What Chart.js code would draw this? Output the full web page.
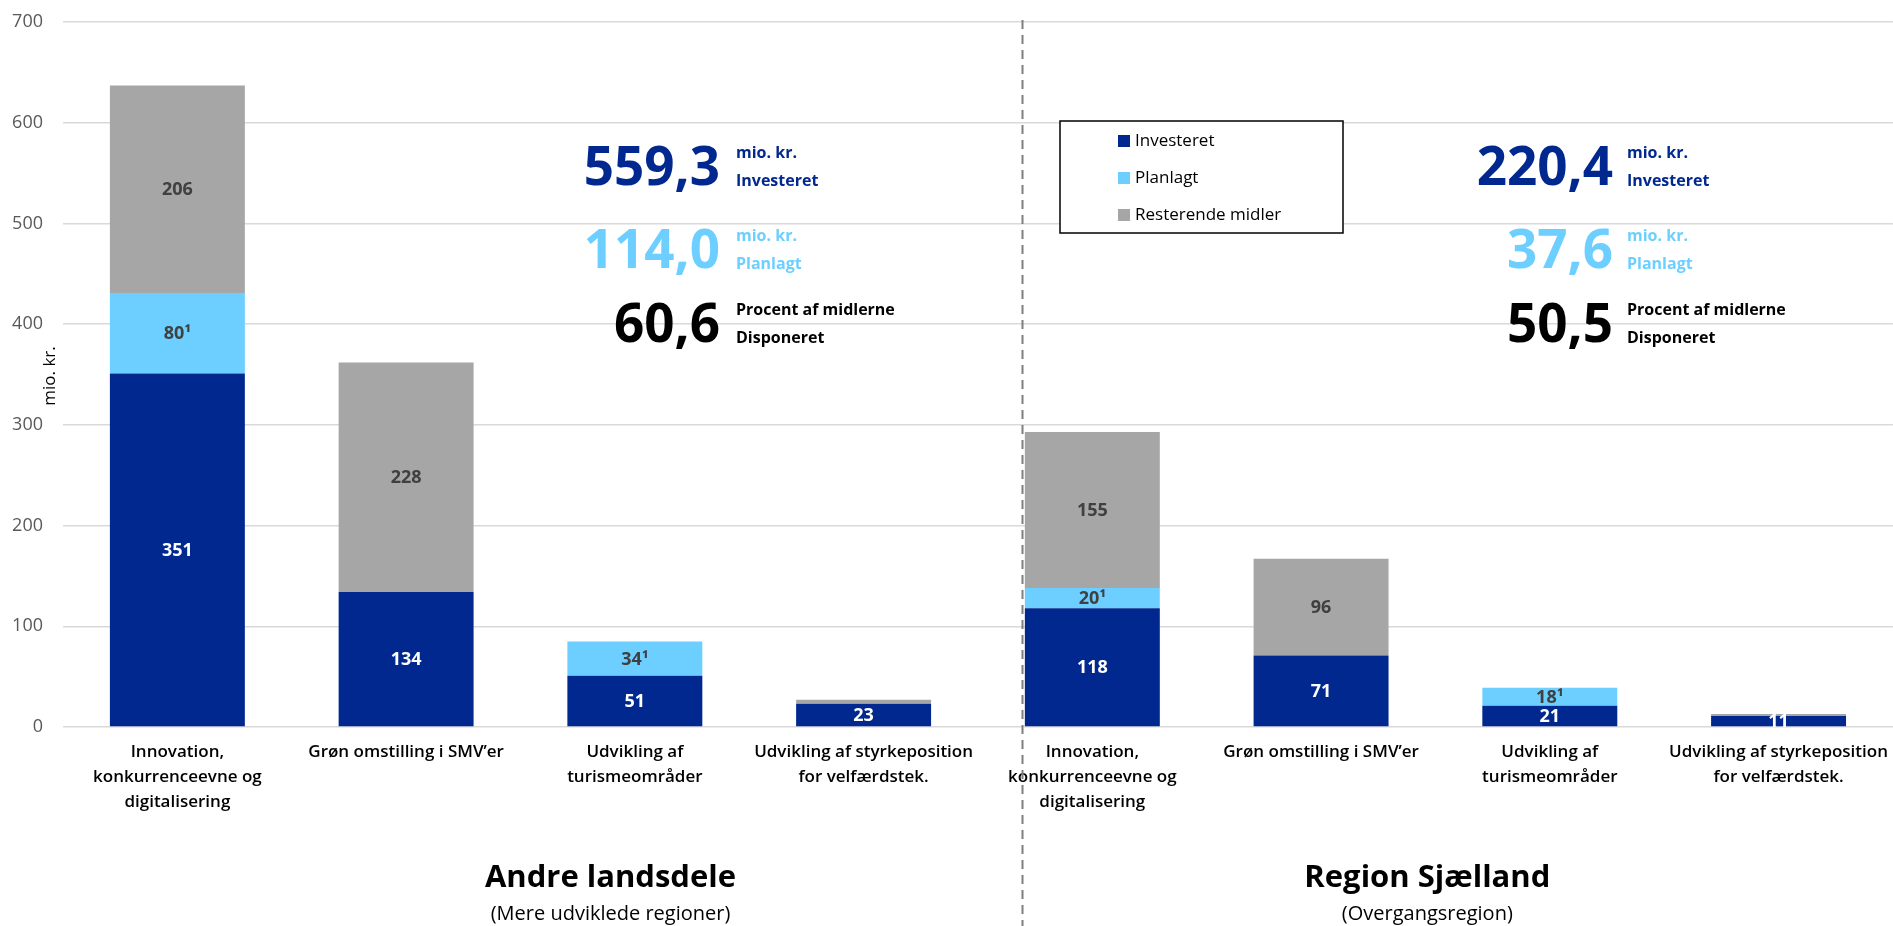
<!DOCTYPE html>
<html>
<head>
<meta charset="utf-8">
<script src="https://cdn.jsdelivr.net/npm/chart.js@4.4.1/dist/chart.umd.min.js"></script>
<style>
  html, body { margin: 0; padding: 0; background: #fff; }
  #wrap { width: 1893px; height: 926px; }
</style>
</head>
<body>
<div id="wrap"><canvas id="chart" width="1893" height="926"></canvas></div>
<script>
// ---------- data ----------
const categories = [
  ["Innovation,", "konkurrenceevne og", "digitalisering"],
  "Grøn omstilling i SMV’er",
  ["Udvikling af", "turismeområder"],
  ["Udvikling af styrkeposition", "for velfærdstek."],
  ["Innovation,", "konkurrenceevne og", "digitalisering"],
  "Grøn omstilling i SMV’er",
  ["Udvikling af", "turismeområder"],
  ["Udvikling af styrkeposition", "for velfærdstek."]
];
const investeret = [351, 134, 51, 23, 118, 71, 21, 11];
const planlagt = [80, 0, 34, 0, 20, 0, 18, 0];
const resterende = [206, 228, 0, 4, 155, 96, 0, 2];
const seriesNames = ["Investeret", "Planlagt", "Resterende midler"];
const yTickValues = [0, 100, 200, 300, 400, 500, 600, 700];

const groupTitles = ["Andre landsdele", "Region Sjælland"];
const groupSubtitles = ["(Mere udviklede regioner)", "(Overgangsregion)"];
const sumInvesteret = ["559,3", "220,4"];
const sumPlanlagt = ["114,0", "37,6"];
const sumDisponeret = ["60,6", "50,5"];

// ---------- colours ----------
const DARK_BLUE = "#00288F";
const LIGHT_BLUE = "#6DCFFF";
const GREY = "#A6A6A6";
const FONT = "'Open Sans', 'Noto Sans', sans-serif";

/* ================= DATA LABELS IN SEGMENTS ================= */
const segmentLabels = {
  id: "segmentLabels",
  afterDatasetsDraw(chart) {
    const ctx = chart.ctx;
    const a = chart.chartArea;
    ctx.save();
    ctx.beginPath();
    ctx.rect(a.left, a.top, a.right - a.left, a.bottom - a.top);
    ctx.clip();
    ctx.font = "700 18px " + FONT;
    ctx.textAlign = "center";
    ctx.textBaseline = "middle";
    chart.data.datasets.forEach((ds, i) => {
      chart.getDatasetMeta(i).data.forEach((bar, j) => {
        const v = ds.data[j];
        if (v < ds.minLabel) return;
        ctx.fillStyle = ds.labelColor;
        ctx.fillText(v + ds.labelSuffix, bar.x, (bar.y + bar.base) / 2 + 1);
      });
    });
    ctx.restore();
  }
};

/* ================= EXTRAS: separator, legend, texts ================= */
const extras = {
  id: "extras",
  afterDraw(chart) {
    const ctx = chart.ctx;
    const a = chart.chartArea;
    const W = chart.width;
    ctx.save();

    // dashed separator left of the 5th bar
    const b5 = chart.getDatasetMeta(0).data[4];
    const sx = Math.round(b5.x - b5.width / 2 - 3) + 0.5;
    ctx.strokeStyle = "#7F7F7F";
    ctx.lineWidth = 2;
    ctx.setLineDash([9, 6]);
    ctx.beginPath();
    ctx.moveTo(sx, a.top - 2);
    ctx.lineTo(sx, chart.height);
    ctx.stroke();
    ctx.setLineDash([]);

    // y axis title
    ctx.save();
    ctx.translate(50, 376);
    ctx.rotate(-Math.PI / 2);
    ctx.font = "400 17px " + FONT;
    ctx.fillStyle = "#000";
    ctx.textAlign = "center";
    ctx.textBaseline = "middle";
    ctx.fillText("mio. kr.", 0, 0);
    ctx.restore();

    // legend box
    const lx = 1060, ly = 121, lw = 283, lh = 112;
    ctx.fillStyle = "#fff";
    ctx.fillRect(lx, ly, lw, lh);
    ctx.strokeStyle = "#000";
    ctx.lineWidth = 1.5;
    ctx.strokeRect(lx, ly, lw, lh);
    ctx.font = "400 17px " + FONT;
    ctx.textAlign = "left";
    ctx.textBaseline = "middle";
    chart.data.datasets.forEach((ds, i) => {
      const ry = 141 + i * 37;
      ctx.fillStyle = ds.backgroundColor;
      ctx.fillRect(1118, ry - 6, 12, 12);
      ctx.fillStyle = "#000";
      ctx.fillText(ds.label, 1135, ry);
    });

    // summary texts
    const blocks = [{ numRight: 720, txtLeft: 736 }, { numRight: 1613, txtLeft: 1627 }];
    blocks.forEach((bk, g) => {
      const rows = [
        { num: sumInvesteret[g], col: DARK_BLUE, l1: "mio. kr.", l2: "Investeret", base: 185 },
        { num: sumPlanlagt[g], col: LIGHT_BLUE, l1: "mio. kr.", l2: "Planlagt", base: 268 },
        { num: sumDisponeret[g], col: "#000", l1: "Procent af midlerne", l2: "Disponeret", base: 342 }
      ];
      rows.forEach(r => {
        ctx.fillStyle = r.col;
        ctx.textBaseline = "alphabetic";
        ctx.textAlign = "right";
        ctx.font = "700 53px " + FONT;
        ctx.fillText(r.num, bk.numRight, r.base);
        ctx.textAlign = "left";
        ctx.font = "700 16px " + FONT;
        ctx.fillText(r.l1, bk.txtLeft, r.base - 27);
        ctx.fillText(r.l2, bk.txtLeft, r.base + 1);
      });
    });

    // group titles under the axis
    const centers = [W * 0.3225, W * 0.754];
    centers.forEach((cx, g) => {
      ctx.fillStyle = "#000";
      ctx.textAlign = "center";
      ctx.textBaseline = "middle";
      ctx.font = "700 31px " + FONT;
      ctx.fillText(groupTitles[g], cx, 878);
      ctx.font = "400 20px " + FONT;
      ctx.fillText(groupSubtitles[g], cx, 914);
    });

    ctx.restore();
  }
};

new Chart(document.getElementById("chart"), {
  type: "bar",
  data: {
    labels: categories,
    datasets: [
      { label: seriesNames[0], data: investeret, backgroundColor: DARK_BLUE,
        labelColor: "#fff", labelSuffix: "", minLabel: 5 },
      { label: seriesNames[1], data: planlagt, backgroundColor: LIGHT_BLUE,
        labelColor: "#404040", labelSuffix: "\u00B9", minLabel: 5 },
      { label: seriesNames[2], data: resterende, backgroundColor: GREY,
        labelColor: "#404040", labelSuffix: "", minLabel: 10 }
    ]
  },
  options: {
    responsive: false,
    animation: false,
    devicePixelRatio: 1,
    layout: { padding: { top: 22, left: 0, right: 0, bottom: 0 } },
    datasets: { bar: { categoryPercentage: 1, barPercentage: 0.59 } },
    plugins: { legend: { display: false }, tooltip: { enabled: false } },
    scales: {
      x: {
        stacked: true,
        grid: { display: false },
        border: { display: false },
        ticks: {
          color: "#000",
          font: { family: FONT, weight: 600, size: 17, lineHeight: 1.47 },
          maxRotation: 0, autoSkip: false, padding: 5
        },
        afterFit(scale) { scale.height = 199; }
      },
      y: {
        stacked: true,
        min: 0,
        max: 700,
        afterBuildTicks(scale) { scale.ticks = yTickValues.map(v => ({ value: v })); },
        grid: { color: "#D9D9D9", lineWidth: 1.5, drawTicks: false },
        border: { display: false },
        ticks: { color: "#595959", font: { family: FONT, size: 18 }, padding: 20 },
        afterFit(scale) { scale.width = 63; scale.paddingTop = 0; scale.paddingBottom = 0; }
      }
    }
  },
  plugins: [segmentLabels, extras]
});
</script>
</body>
</html>
